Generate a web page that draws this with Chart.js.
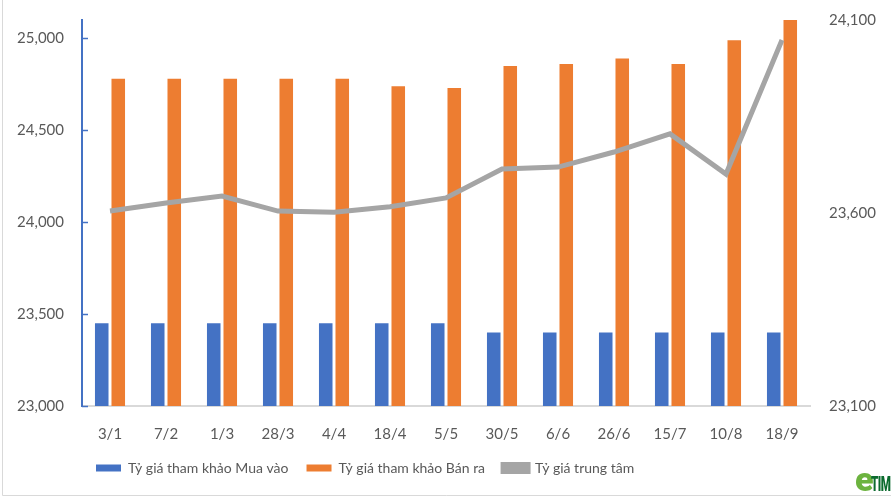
<!DOCTYPE html>
<html>
<head>
<meta charset="utf-8">
<script src="https://cdn.jsdelivr.net/npm/chart.js@4.4.0/dist/chart.umd.min.js"></script>
<style>
  html, body { margin: 0; padding: 0; background: #fff; }
  #wrap { position: relative; width: 891px; height: 499px; overflow: hidden; }
  #logo { position: absolute; left: 855px; top: 463px; white-space: nowrap; font-family: 'Roboto', sans-serif;
          font-weight: 900; line-height: 32px; }
  #logo .e { color: #6cb33f; font-size: 34px; }
  #logo .t { display: inline-block; color: #0b6b2e; font-size: 21px; transform: scaleX(0.55); transform-origin: 0 50%; letter-spacing: -1px; margin-left: -3px; }
</style>
</head>
<body>
<div id="wrap">
  <canvas id="rateChart" width="891" height="499"></canvas>
  <div id="logo"><span class="e">e</span><span class="t">TIME</span></div>
</div>
<script>
const labels = ['3/1', '7/2', '1/3', '28/3', '4/4', '18/4', '5/5', '30/5', '6/6', '26/6', '15/7', '10/8', '18/9'];
const buyRate = [23450, 23450, 23450, 23450, 23450, 23450, 23450, 23400, 23400, 23400, 23400, 23400, 23400];
const sellRate = [24780, 24780, 24780, 24780, 24780, 24740, 24730, 24850, 24860, 24890, 24860, 24990, 25100];
const centralRate = [23605, 23626, 23644, 23605, 23602, 23616, 23639, 23714, 23719, 23758, 23805, 23701, 24048];
const leftTicks = [23000, 23500, 24000, 24500, 25000];
const rightTicks = [23100, 23600, 24100];

const fontFamily = "Lato, 'Open Sans', sans-serif";
const textColor = '#595959';

// white page with a light frame, inward tick marks on the left axis, legend shifted left
const decorations = {
    id: 'decorations',
    afterLayout(chart) {
        chart.legend.left = 78;
    },
    beforeDraw(chart) {
        const c = chart.ctx;
        c.save();
        c.fillStyle = '#fff';
        c.fillRect(0, 0, chart.width, chart.height);
        c.strokeStyle = '#d9d9d9';
        c.lineWidth = 1;
        c.beginPath();
        c.moveTo(2.5, 0);
        c.lineTo(2.5, chart.height - 3.5);
        c.lineTo(chart.width, chart.height - 3.5);
        c.stroke();
        c.restore();
    },
    afterDatasetsDraw(chart) {
        const y = chart.scales.y;
        const c = chart.ctx;
        c.save();
        c.strokeStyle = '#4472C4';
        c.lineWidth = 1.5;
        y.ticks.forEach(t => {
            const py = Math.round(y.getPixelForValue(t.value)) + 0.5;
            c.beginPath();
            c.moveTo(y.right, py);
            c.lineTo(y.right + 6, py);
            c.stroke();
        });
        c.restore();
    }
};

new Chart(document.getElementById('rateChart'), {
    type: 'bar',
    data: {
        labels: labels,
        datasets: [
            {
                type: 'line',
                label: 'Tỷ giá trung tâm',
                data: centralRate,
                yAxisID: 'y1',
                borderColor: '#A5A5A5',
                backgroundColor: '#A5A5A5',
                borderWidth: 5,
                pointRadius: 0,
                tension: 0,
                order: 0
            },
            {
                label: 'Tỷ giá tham khảo Mua vào',
                data: buyRate,
                yAxisID: 'y',
                backgroundColor: '#4472C4',
                categoryPercentage: 0.59,
                barPercentage: 0.82,
                order: 1
            },
            {
                label: 'Tỷ giá tham khảo Bán ra',
                data: sellRate,
                yAxisID: 'y',
                backgroundColor: '#ED7D31',
                categoryPercentage: 0.59,
                barPercentage: 0.82,
                order: 1
            }
        ]
    },
    options: {
        responsive: false,
        animation: false,
        layout: {
            padding: { top: 12, left: 0, right: 0, bottom: 14 }
        },
        plugins: {
            legend: {
                position: 'bottom',
                align: 'start',
                labels: {
                    sort: (a, b) => [1, 2, 0].indexOf(a.datasetIndex) - [1, 2, 0].indexOf(b.datasetIndex),
                    boxWidth: 25,
                    boxHeight: 7,
                    padding: 18,
                    color: textColor,
                    font: { family: fontFamily, size: 14 }
                }
            },
            tooltip: { enabled: false }
        },
        scales: {
            x: {
                grid: { display: false },
                border: { color: '#d9d9d9', width: 2 },
                ticks: {
                    color: textColor,
                    padding: 11,
                    font: { family: fontFamily, size: 15 }
                },
                afterFit: function(scale) { scale.height = 37; }
            },
            y: {
                position: 'left',
                min: 23000,
                max: 25100,
                grid: { display: false },
                border: { color: '#4472C4', width: 2 },
                afterBuildTicks: function(scale) {
                    scale.ticks = leftTicks.map(v => ({ value: v }));
                },
                ticks: {
                    color: textColor,
                    padding: 10,
                    font: { family: fontFamily, size: 15 },
                    callback: function(value) {
                        return value.toLocaleString('en-US');
                    }
                },
                afterFit: function(scale) { scale.width = 82; }
            },
            y1: {
                position: 'right',
                min: 23100,
                max: 24100,
                grid: { display: false },
                border: { display: false },
                afterBuildTicks: function(scale) {
                    scale.ticks = rightTicks.map(v => ({ value: v }));
                },
                ticks: {
                    color: textColor,
                    padding: 11,
                    font: { family: fontFamily, size: 15 },
                    callback: function(value) {
                        return value.toLocaleString('en-US');
                    }
                },
                afterFit: function(scale) { scale.width = 81; }
            }
        }
    },
    plugins: [decorations]
});
</script>
</body>
</html>
